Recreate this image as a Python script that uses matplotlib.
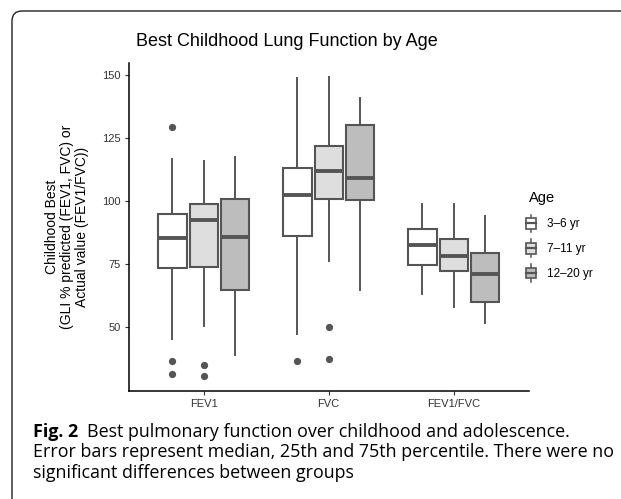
import numpy as np
import matplotlib
matplotlib.use('Agg')
import matplotlib.pyplot as plt
from matplotlib.patches import Rectangle, PathPatch
from matplotlib.lines import Line2D
from matplotlib.legend_handler import HandlerBase
from matplotlib.path import Path

plt.rcParams['font.family'] = ['Liberation Sans', 'DejaVu Sans']

# Data
measures = ['FEV1', 'FVC', 'FEV1/FVC']
ages = ['3\u20136 yr', '7\u201311 yr', '12\u201320 yr']
fills = ['#FFFFFF', '#DEDEDE', '#BDBDBD']

# per measure, per age group: [whislo, q1, med, q3, whishi]
fev1 = [[45.4, 73.3, 85.4, 94.9, 116.5],
        [50.5, 73.7, 92.4, 98.8, 115.7],
        [39.0, 64.8, 85.8, 100.8, 117.5]]
fvc = [[47.2, 86.2, 102.5, 112.9, 148.5],
       [76.1, 100.6, 111.7, 121.6, 148.9],
       [64.9, 100.4, 108.9, 129.9, 140.6]]
ratio = [[63.1, 74.8, 82.7, 89.0, 98.9],
         [58.0, 72.3, 78.1, 85.0, 98.9],
         [51.7, 59.9, 71.2, 79.4, 93.9]]
fev1_out = [[129.1, 36.7, 31.5], [35.2, 30.9], []]
fvc_out = [[36.7], [50.1, 37.6], []]
ratio_out = [[], [], []]

summary = [fev1, fvc, ratio]
outliers = [fev1_out, fvc_out, ratio_out]

W, H = 621, 499
fig = plt.figure(figsize=(W / 100, H / 100), dpi=100)
ax = fig.add_axes([128.7 / W, 1 - 390.7 / H, 400 / W, 328 / H])

line_col = '#555555'
offsets = [-0.25, 0.0, 0.25]
for i, m in enumerate(measures):
    for j in range(3):
        lo, q1, med, q3, hi = summary[i][j]
        st = dict(med=med, q1=q1, q3=q3, whislo=lo, whishi=hi,
                  fliers=outliers[i][j])
        ax.bxp([st], positions=[i + 1 + offsets[j]], widths=0.225,
               showcaps=False, patch_artist=True,
               boxprops=dict(facecolor=fills[j], edgecolor=line_col, linewidth=1.5),
               whiskerprops=dict(color=line_col, linewidth=1.4),
               medianprops=dict(color=line_col, linewidth=2.8, solid_capstyle='butt'),
               flierprops=dict(marker='o', markersize=4.2, markerfacecolor=line_col,
                               markeredgecolor=line_col))

ax.set_xlim(0.4, 3.6)
ax.set_ylim(24.9, 154.7)
ax.set_xticks([1, 2, 3])
ax.set_xticklabels(measures)
ax.set_yticks([50, 75, 100, 125, 150])
for s in ['top', 'right']:
    ax.spines[s].set_visible(False)
for s in ['left', 'bottom']:
    ax.spines[s].set_linewidth(1.1)
    ax.spines[s].set_color('black')
ax.tick_params(axis='both', length=3, width=0.8, color='#333333',
               labelsize=8, labelcolor='#333333', pad=3)

fig.text(136.5 / W, 1 - 41.5 / H, 'Best Childhood Lung Function by Age',
         fontsize=13, ha='left', va='center', color='black')
fig.text(66.7 / W, 1 - 226.7 / H,
         'Childhood Best\n(GLI % predicted (FEV1, FVC) or\nActual value (FEV1/FVC))',
         rotation=90, ha='center', va='center', multialignment='center',
         fontsize=10, linespacing=1.1)


class BoxHandler(HandlerBase):
    def create_artists(self, legend, orig_handle, xdescent, ydescent,
                       width, height, fontsize, trans):
        x0, y0 = -xdescent, -ydescent
        cx = x0 + width / 2
        cy = y0 + height / 2
        bw, bh = width * 0.95, height * 0.72
        rect = Rectangle((cx - bw / 2, cy - bh / 2), bw, bh,
                         facecolor=orig_handle.get_facecolor(),
                         edgecolor=line_col, linewidth=1.2, transform=trans)
        top = Line2D([cx, cx], [cy + bh / 2, y0 + height * 1.1],
                     color=line_col, linewidth=1.1, transform=trans)
        bot = Line2D([cx, cx], [y0 - height * 0.1, cy - bh / 2],
                     color=line_col, linewidth=1.1, transform=trans)
        mid = Line2D([cx - bw / 2, cx + bw / 2], [cy, cy],
                     color=line_col, linewidth=1.6, transform=trans)
        return [top, bot, rect, mid]


fig.text(528.5 / W, 1 - 198 / H, 'Age', fontsize=10.5, ha='left', va='center')
handles = [Rectangle((0, 0), 1, 1, facecolor=f) for f in fills]
leg = fig.legend(handles, ages, handler_map={Rectangle: BoxHandler()},
                 loc='upper left', bbox_to_anchor=(526 / W, 1 - 216 / H),
                 frameon=False, fontsize=8.5,
                 handlelength=0.9, handleheight=1.55, handletextpad=0.9,
                 labelspacing=0.85, borderaxespad=0, borderpad=0)

# caption
cap_font = ['Open Sans', 'DejaVu Sans']
cap_size = 12.9
y1 = 1 - 431.7 / H
tb = fig.text(33 / W, y1, 'Fig. 2', fontsize=cap_size, fontweight='bold',
              family=cap_font, ha='left', va='center')
ax.annotate('Best pulmonary function over childhood and adolescence.',
            xy=(1, 0.5), xycoords=tb, xytext=(6, 0), textcoords='offset points',
            fontsize=cap_size, family=cap_font, ha='left', va='center',
            annotation_clip=False)
fig.text(33 / W, 1 - 452 / H,
         'Error bars represent median, 25th and 75th percentile. There were no',
         fontsize=cap_size, family=cap_font, ha='left', va='center')
fig.text(33 / W, 1 - 473.5 / H, 'significant differences between groups',
         fontsize=cap_size, family=cap_font, ha='left', va='center')

# frame with rounded top-left corner
r = 10
fx, fy = 12, 11
verts = [(fx, H + 2), (fx, fy + r), (fx, fy), (fx + r, fy), (W + 2, fy)]
codes = [Path.MOVETO, Path.LINETO, Path.CURVE3, Path.CURVE3, Path.LINETO]
verts = [(x / W, 1 - y / H) for x, y in verts]
frame = PathPatch(Path(verts, codes), facecolor='none', edgecolor='#222222',
                  linewidth=1.0, transform=fig.transFigure, clip_on=False)
fig.patches.append(frame)

fig.savefig('out.png', dpi=100)
